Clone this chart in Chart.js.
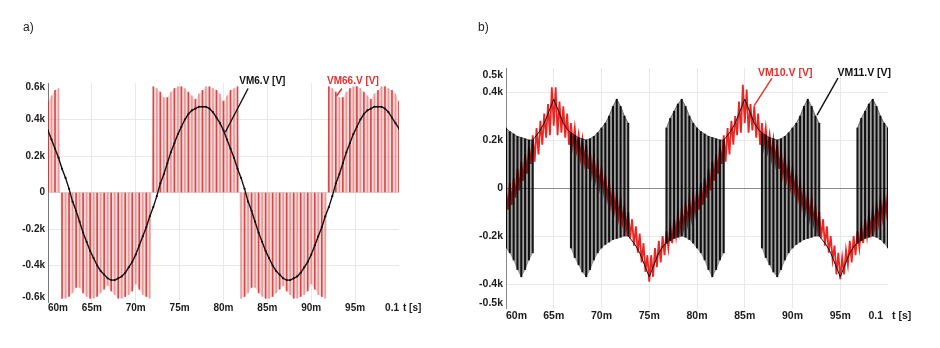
<!DOCTYPE html>
<html>
<head>
<meta charset="utf-8">
<script src="https://cdn.jsdelivr.net/npm/chart.js@4.4.0/dist/chart.umd.min.js"></script>
<style>
  html, body { margin: 0; padding: 0; background: #fff; }
  #wrap { position: relative; width: 940px; height: 348px; }
  .panel { position: absolute; top: 0; width: 470px; height: 348px; }
</style>
</head>
<body>
<div id="wrap">
  <div class="panel" style="left:0"><canvas id="chartA"></canvas></div>
  <div class="panel" style="left:470px"><canvas id="chartB"></canvas></div>
</div>
<script>
// time in ms, voltages in kV

const tCoarse = [
  60,60.4,60.8,61.2,61.6,62,62.4,62.8,63.2,63.6,
  64,64.4,64.8,65.2,65.6,66,66.4,66.8,67.2,67.6,
  68,68.4,68.8,69.2,69.6,70,70.4,70.8,71.2,71.6,
  72,72.4,72.8,73.2,73.6,74,74.4,74.8,75.2,75.6,
  76,76.4,76.8,77.2,77.6,78,78.4,78.8,79.2,79.6,
  80,80.4,80.8,81.2,81.6,82,82.4,82.8,83.2,83.6,
  84,84.4,84.8,85.2,85.6,86,86.4,86.8,87.2,87.6,
  88,88.4,88.8,89.2,89.6,90,90.4,90.8,91.2,91.6,
  92,92.4,92.8,93.2,93.6,94,94.4,94.8,95.2,95.6,
  96,96.4,96.8,97.2,97.6,98,98.4,98.8,99.2,99.6,
  100
];

const tFine = [
  60,60.2,60.4,60.6,60.8,61,61.2,61.4,61.6,61.8,
  62,62.2,62.4,62.6,62.8,63,63.2,63.4,63.6,63.8,
  64,64.2,64.4,64.6,64.8,65,65.2,65.4,65.6,65.8,
  66,66.2,66.4,66.6,66.8,67,67.2,67.4,67.6,67.8,
  68,68.2,68.4,68.6,68.8,69,69.2,69.4,69.6,69.8,
  70,70.2,70.4,70.6,70.8,71,71.2,71.4,71.6,71.8,
  72,72.2,72.4,72.6,72.8,73,73.2,73.4,73.6,73.8,
  74,74.2,74.4,74.6,74.8,75,75.2,75.4,75.6,75.8,
  76,76.2,76.4,76.6,76.8,77,77.2,77.4,77.6,77.8,
  78,78.2,78.4,78.6,78.8,79,79.2,79.4,79.6,79.8,
  80,80.2,80.4,80.6,80.8,81,81.2,81.4,81.6,81.8,
  82,82.2,82.4,82.6,82.8,83,83.2,83.4,83.6,83.8,
  84,84.2,84.4,84.6,84.8,85,85.2,85.4,85.6,85.8,
  86,86.2,86.4,86.6,86.8,87,87.2,87.4,87.6,87.8,
  88,88.2,88.4,88.6,88.8,89,89.2,89.4,89.6,89.8,
  90,90.2,90.4,90.6,90.8,91,91.2,91.4,91.6,91.8,
  92,92.2,92.4,92.6,92.8,93,93.2,93.4,93.6,93.8,
  94,94.2,94.4,94.6,94.8,95,95.2,95.4,95.6,95.8,
  96,96.2,96.4,96.6,96.8,97,97.2,97.4,97.6,97.8,
  98,98.2,98.4,98.6,98.8,99,99.2,99.4,99.6,99.8,
  100
];

const xTicks = [60, 65, 70, 75, 80, 85, 90, 95, 100];
const xTickLabels = ['60m', '65m', '70m', '75m', '80m', '85m', '90m', '95m', '0.1'];
const yTicksA = [-0.6, -0.4, -0.2, 0, 0.2, 0.4, 0.6];
const yTickLabelsA = ['-0.6k', '-0.4k', '-0.2k', '0', '0.2k', '0.4k', '0.6k'];
const yTicksB = [-0.5, -0.4, -0.2, 0, 0.2, 0.4, 0.5];
const yTickLabelsB = ['-0.5k', '-0.4k', '-0.2k', '0', '0.2k', '0.4k', '0.5k'];

// a) VM6 (sine) on tCoarse
const vm6 = [
  0.34,0.29,0.24,0.19,0.13,0.08,0.02,-0.05,-0.10,-0.16,
  -0.22,-0.27,-0.32,-0.36,-0.40,-0.43,-0.45,-0.47,-0.48,-0.48,
  -0.47,-0.46,-0.44,-0.41,-0.38,-0.34,-0.29,-0.24,-0.19,-0.13,
  -0.08,-0.02,0.05,0.10,0.16,0.22,0.27,0.32,0.36,0.40,
  0.43,0.45,0.46,0.47,0.47,0.47,0.46,0.44,0.41,0.38,
  0.34,0.29,0.24,0.19,0.13,0.08,0.02,-0.05,-0.10,-0.16,
  -0.22,-0.27,-0.32,-0.36,-0.40,-0.43,-0.45,-0.47,-0.48,-0.48,
  -0.47,-0.46,-0.44,-0.41,-0.38,-0.34,-0.29,-0.24,-0.19,-0.13,
  -0.08,-0.02,0.05,0.10,0.16,0.22,0.27,0.32,0.36,0.40,
  0.43,0.45,0.46,0.47,0.47,0.47,0.46,0.44,0.41,0.38,
  0.35
];

// a) VM66 pulse tops on tCoarse
const vm66 = [
  0.50,0.53,0.56,0.57,-0.58,-0.58,-0.57,-0.55,-0.52,-0.52,
  -0.55,-0.57,-0.58,-0.58,-0.57,-0.55,-0.53,-0.51,-0.54,-0.56,
  -0.58,-0.58,-0.57,-0.56,-0.54,-0.50,-0.53,-0.56,-0.57,-0.58,
  0.58,0.57,0.55,0.52,0.52,0.55,0.57,0.58,0.58,0.57,
  0.55,0.53,0.51,0.54,0.56,0.58,0.58,0.57,0.56,0.54,
  0.50,0.53,0.56,0.57,0.58,-0.58,-0.57,-0.55,-0.52,-0.52,
  -0.55,-0.57,-0.58,-0.58,-0.57,-0.55,-0.53,-0.51,-0.54,-0.56,
  -0.58,-0.58,-0.57,-0.56,-0.54,-0.50,-0.53,-0.56,-0.57,-0.58,
  0.58,0.57,0.55,0.52,0.52,0.55,0.57,0.58,0.58,0.57,
  0.55,0.53,0.51,0.54,0.56,0.58,0.58,0.57,0.56,0.54,
  0.50
];

// b) VM11 pulse upper / lower ends on tCoarse
const vm11Hi = [
  0.25,0.235,0.225,0.215,0.21,0.205,0.20,0.20,null,null,
  null,null,null,null,null,null,null,0.23,0.22,0.21,
  0.205,0.20,0.205,0.215,0.23,0.25,0.27,0.30,0.34,0.37,
  0.34,0.30,0.27,null,null,null,null,null,null,null,
  null,null,0.25,0.29,0.32,0.35,0.37,0.34,0.30,0.27,
  0.25,0.235,0.225,0.215,0.21,0.205,0.20,0.20,null,null,
  null,null,null,null,null,null,null,0.23,0.22,0.21,
  0.205,0.20,0.205,0.215,0.23,0.25,0.27,0.30,0.34,0.37,
  0.34,0.30,0.27,null,null,null,null,null,null,null,
  null,null,0.25,0.29,0.32,0.35,0.37,0.34,0.30,0.27,
  0.25
];
const vm11Lo = [
  -0.25,-0.27,-0.30,-0.34,-0.37,-0.34,-0.30,-0.27,null,null,
  null,null,null,null,null,null,null,-0.25,-0.29,-0.32,
  -0.35,-0.37,-0.34,-0.30,-0.27,-0.25,-0.235,-0.225,-0.215,-0.21,
  -0.205,-0.20,-0.20,null,null,null,null,null,null,null,
  null,null,-0.23,-0.22,-0.21,-0.205,-0.20,-0.205,-0.215,-0.23,
  -0.25,-0.27,-0.30,-0.34,-0.37,-0.34,-0.30,-0.27,null,null,
  null,null,null,null,null,null,null,-0.25,-0.29,-0.32,
  -0.35,-0.37,-0.34,-0.30,-0.27,-0.25,-0.235,-0.225,-0.215,-0.21,
  -0.205,-0.20,-0.20,null,null,null,null,null,null,null,
  null,null,-0.23,-0.22,-0.21,-0.205,-0.20,-0.205,-0.215,-0.23,
  -0.25
];

// b) VM11 between the pulse blocks (thin line)
const vm11LineT = [
  62.8,63,63.5,64,64.5,65,65.5,66,66.5,66.8, 70,
  72.8,73,73.5,74,74.5,75,75.5,76,76.5,76.8, 80,
  82.8,83,83.5,84,84.5,85,85.5,86,86.5,86.8, 90,
  92.8,93,93.5,94,94.5,95,95.5,96,96.5,96.8
];
const vm11LineV = [
  0.20,0.21,0.235,0.27,0.32,0.37,0.32,0.27,0.24,0.23, null,
  -0.20,-0.21,-0.235,-0.27,-0.32,-0.37,-0.32,-0.27,-0.24,-0.23, null,
  0.20,0.21,0.235,0.27,0.32,0.37,0.32,0.27,0.24,0.23, null,
  -0.20,-0.21,-0.235,-0.27,-0.32,-0.37,-0.32,-0.27,-0.24,-0.23
];

// b) VM10 on tFine
const vm10 = [
  -0.01,-0.09,0.02,-0.07,0.04,-0.04,0.08,-0.01,0.11,0.03,
  0.14,0.06,0.17,0.10,0.22,0.11,0.25,0.14,0.28,0.18,
  0.31,0.21,0.35,0.22,0.42,0.26,0.42,0.22,0.36,0.23,
  0.34,0.21,0.31,0.18,0.27,0.18,0.25,0.16,0.22,0.13,
  0.20,0.11,0.18,0.08,0.15,0.06,0.13,0.04,0.10,0.01,
  0.08,-0.01,0.05,-0.04,0.02,-0.07,0.00,-0.09,-0.03,-0.12,
  -0.05,-0.14,-0.08,-0.17,-0.10,-0.21,-0.13,-0.24,-0.16,-0.27,
  -0.19,-0.31,-0.23,-0.35,-0.28,-0.39,-0.28,-0.37,-0.25,-0.33,
  -0.22,-0.31,-0.20,-0.28,-0.18,-0.25,-0.16,-0.23,-0.13,-0.20,
  -0.11,-0.18,-0.09,-0.16,-0.07,-0.14,-0.05,-0.12,-0.03,-0.10,
  -0.01,-0.09,0.02,-0.07,0.04,-0.04,0.08,-0.01,0.11,0.03,
  0.14,0.06,0.17,0.10,0.22,0.11,0.25,0.14,0.28,0.18,
  0.30,0.22,0.36,0.23,0.43,0.27,0.41,0.23,0.35,0.24,
  0.34,0.21,0.31,0.18,0.27,0.18,0.25,0.16,0.22,0.13,
  0.20,0.11,0.18,0.08,0.15,0.06,0.13,0.04,0.10,0.01,
  0.08,-0.01,0.05,-0.04,0.02,-0.07,0.00,-0.09,-0.03,-0.12,
  -0.05,-0.14,-0.08,-0.17,-0.10,-0.21,-0.13,-0.24,-0.16,-0.27,
  -0.20,-0.30,-0.24,-0.36,-0.27,-0.38,-0.29,-0.36,-0.26,-0.32,
  -0.22,-0.31,-0.20,-0.28,-0.18,-0.25,-0.16,-0.23,-0.13,-0.20,
  -0.11,-0.18,-0.09,-0.16,-0.07,-0.14,-0.05,-0.12,-0.03,-0.10,
  -0.01
];

function pts(xs, ys) {
  return xs.map(function (x, i) { return { x: x, y: ys[i] }; });
}

// tick texts, axis unit, panel title and series names with their leader lines
function textLayer(cfg) {
  return {
    id: 'textLayer',
    afterDraw: function (chart) {
      var ctx = chart.ctx, ca = chart.chartArea;
      var sx = chart.scales.x, sy = chart.scales.y;
      var bold = 'bold ' + cfg.size + 'px "Liberation Sans", Arial, sans-serif';
      ctx.save();
      ctx.font = bold;
      ctx.fillStyle = '#1b1b1b';
      ctx.textBaseline = 'middle';
      var last = xTicks.length - 1;
      xTicks.forEach(function (v, i) {
        var px = sx.getPixelForValue(v);
        ctx.textAlign = 'center';
        if (i === 0) ctx.textAlign = 'left';
        if (i === last) { ctx.textAlign = 'right'; px -= cfg.lastInset; }
        ctx.fillText(xTickLabels[i], px, ca.bottom + cfg.xGap);
      });
      ctx.textAlign = 'left';
      ctx.fillText('t [s]', ca.right + 4, ca.bottom + cfg.xGap);

      ctx.textAlign = 'right';
      var yl = cfg.yTicks.length - 1;
      cfg.yTicks.forEach(function (v, i) {
        var py = sy.getPixelForValue(v);
        if (i === 0) py -= cfg.edgeShift[0];
        if (i === yl) py += cfg.edgeShift[1];
        ctx.fillText(cfg.yLabels[i], ca.left - 3, py);
      });

      ctx.font = '12px "Liberation Sans", Arial, sans-serif';
      ctx.textAlign = 'left';
      ctx.fillStyle = '#222';
      ctx.fillText(cfg.title, cfg.titleX, cfg.titleY);

      ctx.font = bold;
      cfg.notes.forEach(function (n) {
        ctx.strokeStyle = n.color;
        ctx.lineWidth = 1.4;
        ctx.beginPath();
        ctx.moveTo(sx.getPixelForValue(n.from[0]), sy.getPixelForValue(n.from[1]));
        ctx.lineTo(sx.getPixelForValue(n.to[0]), sy.getPixelForValue(n.to[1]));
        ctx.stroke();
        ctx.fillStyle = n.color;
        ctx.fillText(n.text, sx.getPixelForValue(n.at[0]), sy.getPixelForValue(n.at[1]));
      });
      ctx.restore();
    }
  };
}

function scalesFor(yMin, yMax, yTicks, yWidth, zeroColor, axisColor) {
  return {
    x: {
      type: 'linear', min: 60, max: 100, offset: false,
      afterBuildTicks: function (s) { s.ticks = xTicks.map(function (v) { return { value: v }; }); },
      afterFit: function (s) { s.height = 0; },
      ticks: { display: false },
      grid: {
        offset: false, drawTicks: false, lineWidth: 1,
        color: function (c) {
          var v = c.tick ? c.tick.value : null;
          return (v === 60 || v === 100) ? 'rgba(0,0,0,0)' : '#e8e8e8';
        }
      },
      border: { display: false }
    },
    y: {
      type: 'linear', min: yMin, max: yMax,
      afterBuildTicks: function (s) { s.ticks = yTicks.map(function (v) { return { value: v }; }); },
      afterFit: function (s) { s.width = yWidth; },
      ticks: { display: false },
      grid: {
        drawTicks: false, lineWidth: 1,
        color: function (c) {
          var v = c.tick ? c.tick.value : null;
          if (v === yMin || v === yMax) return 'rgba(0,0,0,0)';
          if (v === 0) return zeroColor;
          return '#e8e8e8';
        }
      },
      border: { display: true, color: axisColor, width: 1 }
    }
  };
}

Chart.defaults.font.family = '"Liberation Sans", Arial, sans-serif';

var baseOptions = function (padding, scales) {
  return {
    responsive: true,
    maintainAspectRatio: false,
    animation: false,
    events: [],
    layout: { padding: padding },
    plugins: { legend: { display: false }, tooltip: { enabled: false } },
    scales: scales
  };
};

// a)
new Chart(document.getElementById('chartA').getContext('2d'), {
  type: 'bar',
  data: {
    datasets: [
      {
        type: 'line', label: 'VM6.V [V]', data: pts(tCoarse, vm6),
        borderColor: '#111', borderWidth: 1.4, tension: 0,
        pointRadius: 1.1, pointBackgroundColor: '#111', pointBorderWidth: 0,
        order: 0
      },
      {
        type: 'bar', label: 'VM66.V [V]', data: pts(tCoarse, vm66),
        backgroundColor: function (c) {
          return c.dataIndex % 2 ? 'rgba(226,120,120,0.65)' : 'rgba(204,36,36,0.8)';
        },
        barThickness: 1, order: 1
      },
      {
        type: 'line', label: 'VM66 area', data: pts(tCoarse, vm66),
        fill: 'origin', backgroundColor: 'rgba(230,140,140,0.33)',
        borderWidth: 0, pointRadius: 0, tension: 0, order: 2
      }
    ]
  },
  options: baseOptions(
    { left: 0, top: 83, right: 71, bottom: 46 },
    scalesFor(-0.6, 0.6, yTicksA, 48, '#dedede', '#777')
  ),
  plugins: [textLayer({
    size: 10, xGap: 6, lastInset: 0,
    yTicks: yTicksA, yLabels: yTickLabelsA, edgeShift: [4.5, 4.5],
    title: 'a)', titleX: 23, titleY: 28,
    notes: [
      { text: 'VM6.V [V]', color: '#111', at: [81.8, 0.61], from: [82.8, 0.57], to: [80.2, 0.33] },
      { text: 'VM66.V [V]', color: '#e3302c', at: [91.8, 0.61], from: [93.5, 0.57], to: [92.9, 0.53] }
    ]
  })]
});

// b)
new Chart(document.getElementById('chartB').getContext('2d'), {
  type: 'bar',
  data: {
    datasets: [
      {
        type: 'bar', label: 'VM11.V [V]',
        data: tCoarse.map(function (t, i) { return { x: t, y: [vm11Lo[i], vm11Hi[i]] }; })
          .filter(function (p) { return p.y[0] !== null; }),
        backgroundColor: 'rgba(0,0,0,0.9)', barThickness: 1.4, order: 0
      },
      {
        type: 'line', label: 'VM11 top', data: pts(tCoarse, vm11Hi),
        fill: '+1', backgroundColor: 'rgba(0,0,0,0.36)',
        borderColor: 'rgba(0,0,0,0.6)', borderWidth: 0.8, pointRadius: 0, tension: 0, order: 1
      },
      {
        type: 'line', label: 'VM11 bottom', data: pts(tCoarse, vm11Lo),
        borderColor: 'rgba(0,0,0,0.4)', borderWidth: 0.6, pointRadius: 0, tension: 0, order: 1
      },
      {
        type: 'line', label: 'VM11 line', data: pts(vm11LineT, vm11LineV),
        borderColor: '#111', borderWidth: 1, pointRadius: 0, tension: 0, order: 2
      },
      {
        type: 'line', label: 'VM10.V [V]', data: pts(tFine, vm10),
        borderColor: 'rgb(236,38,34)', borderWidth: 1.8, pointRadius: 0, tension: 0, order: 3
      }
    ]
  },
  options: baseOptions(
    { left: 0, top: 68, right: 52, bottom: 40 },
    scalesFor(-0.5, 0.5, yTicksB, 36, '#8e8e8e', '#888')
  ),
  plugins: [textLayer({
    size: 10.5, xGap: 8, lastInset: 5,
    yTicks: yTicksB, yLabels: yTickLabelsB, edgeShift: [5, 7],
    title: 'b)', titleX: 8, titleY: 28,
    notes: [
      { text: 'VM10.V [V]', color: '#e3302c', at: [86.4, 0.48], from: [87.85, 0.458], to: [85.97, 0.342] },
      { text: 'VM11.V [V]', color: '#111', at: [94.7, 0.48], from: [94.76, 0.458], to: [92.57, 0.304] }
    ]
  })]
});
</script>
</body>
</html>
